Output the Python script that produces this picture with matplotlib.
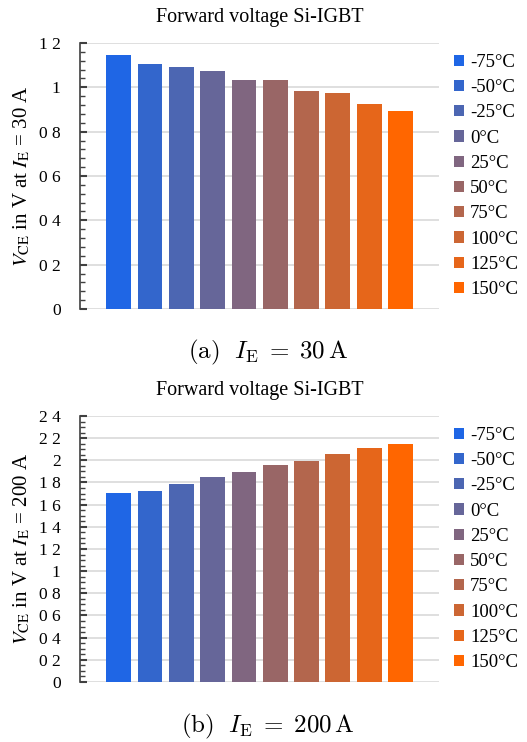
import matplotlib
matplotlib.use('Agg')
import matplotlib.pyplot as plt
from matplotlib.ticker import MultipleLocator
import numpy as np

plt.rcParams['font.family'] = ['Liberation Serif', 'DejaVu Serif']
plt.rcParams['mathtext.fontset'] = 'stix'

temps = ['-75°C', '-50°C', '-25°C', '0°C', '25°C', '50°C', '75°C', '100°C', '125°C', '150°C']
vce_30a = [1.145, 1.104, 1.090, 1.072, 1.032, 1.032, 0.982, 0.973, 0.924, 0.892]
vce_200a = [1.706, 1.724, 1.787, 1.850, 1.895, 1.958, 1.995, 2.058, 2.112, 2.148]
colors = ['#1f66e5', '#3366cc', '#4c66b2', '#666699', '#806680',
          '#996666', '#b3664d', '#cc6633', '#e6661a', '#ff6600']

yticks_30a = [0, 0.2, 0.4, 0.6, 0.8, 1.0, 1.2]
ylabels_30a = ['0', '0 2', '0 4', '0 6', '0 8', '1', '1 2']
yticks_200a = [0, 0.2, 0.4, 0.6, 0.8, 1.0, 1.2, 1.4, 1.6, 1.8, 2.0, 2.2, 2.4]
ylabels_200a = ['0', '0 2', '0 4', '0 6', '0 8', '1', '1 2', '1 4', '1 6', '1 8', '2', '2 2', '2 4']

fig = plt.figure(figsize=(5.27, 7.42), dpi=100)
ax1 = fig.add_axes([0.152, 0.5836, 0.681, 0.3584])
ax2 = fig.add_axes([0.152, 0.0809, 0.681, 0.3585])


def draw(ax, vals, ticks, labels, minor, ylabel):
    x = np.arange(len(vals))
    for i in range(len(vals)):
        ax.bar(x[i], vals[i], width=0.79, color=colors[i], label=temps[i], zorder=3)
    ax.set_xlim(-1.23, 10.23)
    ax.set_ylim(0, ticks[-1])
    ax.set_yticks(ticks)
    ax.set_yticklabels(labels, fontsize=12.5)
    ax.yaxis.set_minor_locator(MultipleLocator(minor))
    ax.set_xticks([])
    for s in ['top', 'right', 'bottom']:
        ax.spines[s].set_visible(False)
    ax.spines['left'].set_color('#404040')
    ax.spines['left'].set_linewidth(1.2)
    ax.tick_params(axis='y', which='major', direction='in', length=5, width=1.5, color='#404040', pad=14)
    ax.tick_params(axis='y', which='minor', direction='in', length=3.5, width=1.0, color='#404040')
    ax.grid(axis='y', which='major', color='#d9d9d9', linewidth=1.2, zorder=0)
    ax.set_title('Forward voltage Si-IGBT', fontsize=14.5, pad=15)
    ax.set_ylabel(ylabel, fontsize=15, labelpad=5)
    ax.legend(loc='center left', bbox_to_anchor=(1.0, 0.5), frameon=False, fontsize=13.5,
              handlelength=0.55, handleheight=0.55, handletextpad=0.3, labelspacing=0.44,
              borderaxespad=0.4)


draw(ax1, vce_30a, yticks_30a, ylabels_30a, 0.04, r'$V_{\mathrm{CE}}$ in V at $I_{\mathrm{E}}$ = 30 A')
draw(ax2, vce_200a, yticks_200a, ylabels_200a, 0.05, r'$V_{\mathrm{CE}}$ in V at $I_{\mathrm{E}}$ = 200 A')

fig.text(0.508, 0.525, r'$\mathrm{(a)}\ \ I_{\mathrm{E}}\;=\;30\,\mathrm{A}$', ha='center', va='center',
         fontsize=18, math_fontfamily='cm')
fig.text(0.508, 0.021, r'$\mathrm{(b)}\ \ I_{\mathrm{E}}\;=\;200\,\mathrm{A}$', ha='center', va='center',
         fontsize=18, math_fontfamily='cm')

fig.savefig('out.png', dpi=100)
